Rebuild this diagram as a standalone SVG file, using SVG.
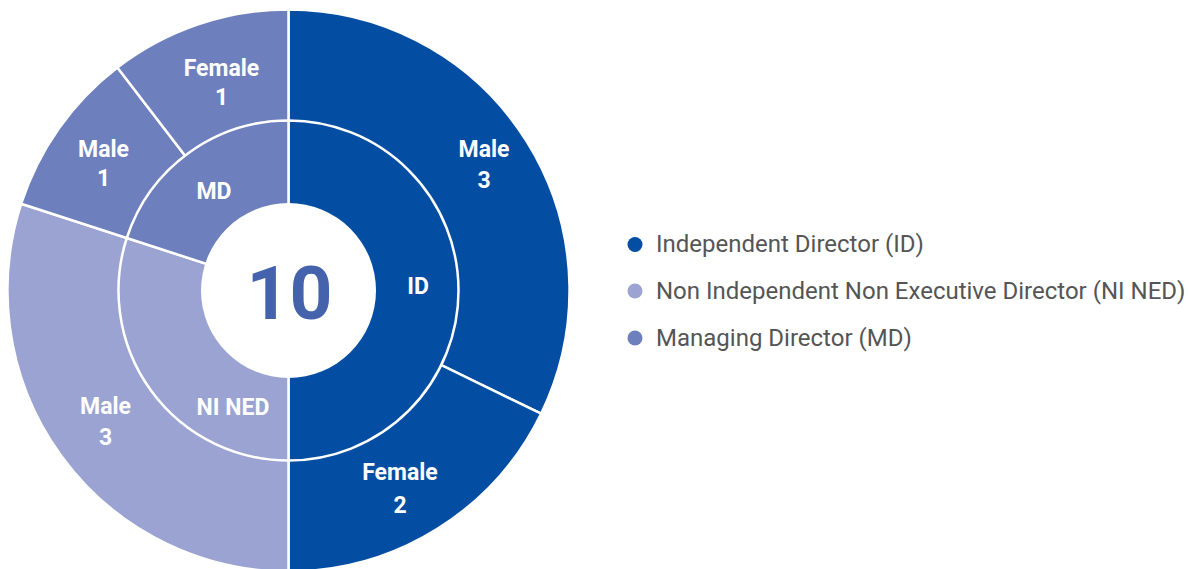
<svg xmlns="http://www.w3.org/2000/svg" width="1189" height="569" viewBox="0 0 1189 569">
<style>
.seg{stroke:#ffffff;stroke-width:2.5;stroke-linejoin:round}
.id{fill:#034ea2}
.ni{fill:#9aa3d2}
.md{fill:#6e7fbd}
.lbl{font-family:Roboto,"Liberation Sans",sans-serif;font-weight:700;font-size:23px;fill:#ffffff;text-anchor:middle}
.lg{font-family:Roboto,"Liberation Sans",sans-serif;font-size:24px;fill:#555555}
.big{font-family:Roboto,"Liberation Sans",sans-serif;font-weight:700;font-size:75px;fill:#4563ad;text-anchor:middle}
</style>
<rect width="1189" height="569" fill="#ffffff"/>
<g id="outer-ring">
<g id="id-male"><path class="seg id" d="M288.5 290.5 L288.5 9.5 A281 281 0 0 1 541.1 413.7 Z"/><text class="lbl" x="484" y="156.5">Male</text><text class="lbl" x="484" y="188">3</text></g>
<g id="id-female"><path class="seg id" d="M288.5 290.5 L541.1 413.7 A281 281 0 0 1 288.5 571.5 Z"/><text class="lbl" x="400" y="480">Female</text><text class="lbl" x="400" y="513">2</text></g>
<g id="ni-male"><path class="seg ni" d="M288.5 290.5 L288.5 571.5 A281 281 0 0 1 21.2 203.7 Z"/><text class="lbl" x="105.5" y="413.5">Male</text><text class="lbl" x="105.5" y="445">3</text></g>
<g id="md-male"><path class="seg md" d="M288.5 290.5 L21.2 203.7 A281 281 0 0 1 117.4 67.6 Z"/><text class="lbl" x="103.5" y="156.5">Male</text><text class="lbl" x="103.5" y="185.5">1</text></g>
<g id="md-female"><path class="seg md" d="M288.5 290.5 L117.4 67.6 A281 281 0 0 1 288.5 9.5 Z"/><text class="lbl" x="221.5" y="76">Female</text><text class="lbl" x="221.5" y="104.5">1</text></g>
</g>
<g id="inner-ring">
<g id="id"><path class="seg id" d="M288.5 290.5 L288.5 120.5 A170 170 0 0 1 288.5 460.5 Z"/><text class="lbl" x="418" y="293.5">ID</text></g>
<g id="ni-ned"><path class="seg ni" d="M288.5 290.5 L288.5 460.5 A170 170 0 0 1 126.8 238 Z"/><text class="lbl" x="233" y="415">NI NED</text></g>
<g id="md"><path class="seg md" d="M288.5 290.5 L126.8 238 A170 170 0 0 1 288.5 120.5 Z"/><text class="lbl" x="214" y="198.5">MD</text></g>
</g>
<g id="center"><circle cx="288.5" cy="290.5" r="87.5" fill="#ffffff"/><text class="big" x="289.5" y="318.5">10</text></g>
<g id="legend">
<g id="legend-id"><circle cx="635" cy="244.5" r="7.5" class="id"/><text class="lg" x="656" y="252">Independent Director (ID)</text></g>
<g id="legend-ni"><circle cx="635" cy="291" r="7.5" class="ni"/><text class="lg" x="656" y="298.5">Non Independent Non Executive Director (NI NED)</text></g>
<g id="legend-md"><circle cx="635" cy="338" r="7.5" class="md"/><text class="lg" x="656" y="345.5">Managing Director (MD)</text></g>
</g>
</svg>
